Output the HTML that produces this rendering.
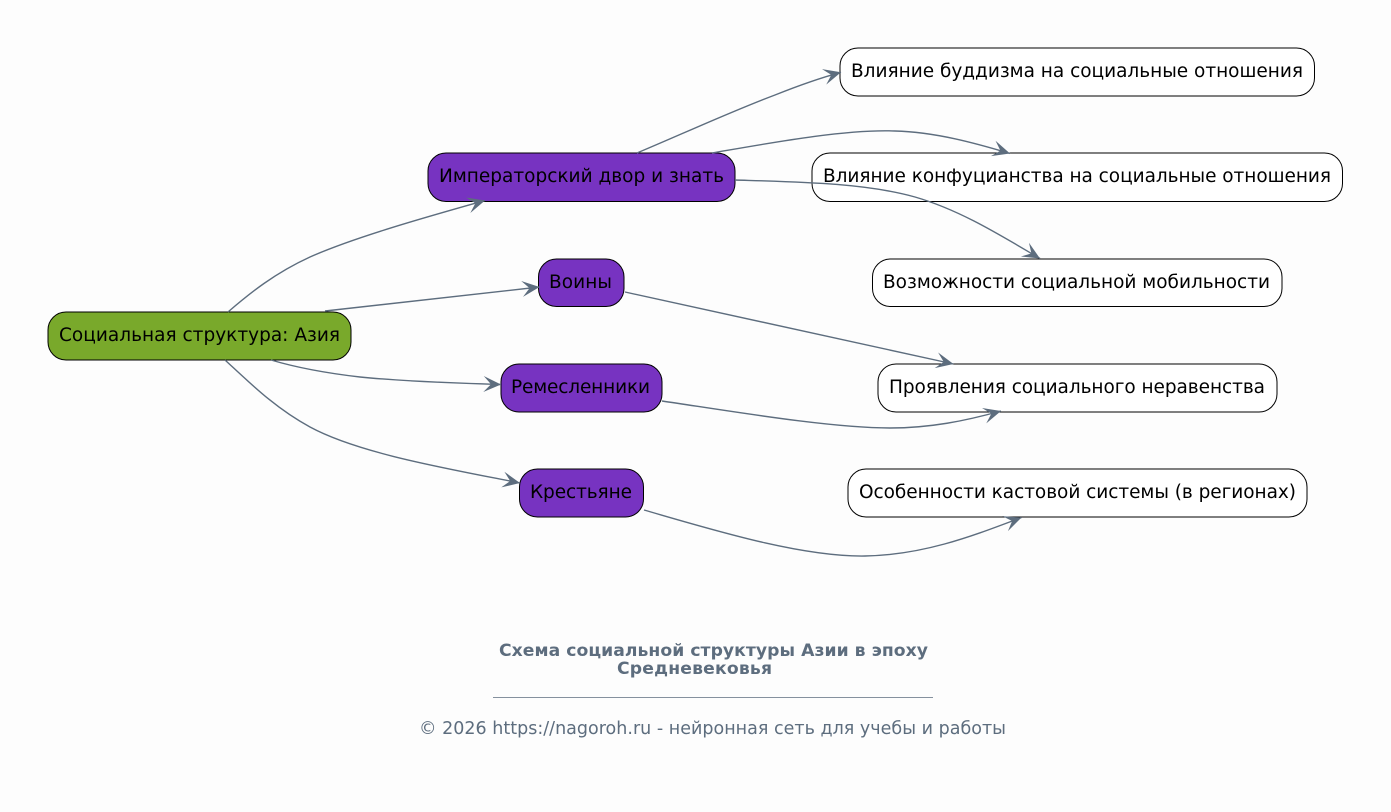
<!DOCTYPE html>
<html><head><meta charset="utf-8"><style>
html,body{margin:0;padding:0;background:#fdfdfd}
svg{display:block}
text{font-family:"DejaVu Sans",sans-serif}
.n{font-size:18.5px;fill:#000;text-anchor:middle}
.b{stroke:#000;stroke-width:1}
.e{fill:none;stroke:#5d6d7e;stroke-width:1.4;marker-end:url(#v)}
</style></head><body>
<svg width="1391" height="812" viewBox="0 0 1391 812" xmlns="http://www.w3.org/2000/svg">
<defs><marker id="v" markerUnits="userSpaceOnUse" markerWidth="20" markerHeight="18" refX="18" refY="9" orient="auto"><path d="M18 9L0.500 1L8 9L0.500 17Z" fill="#5d6d7e"/></marker></defs>
<rect width="1391" height="812" fill="#fdfdfd"/>
<g class="b">
<rect x="48" y="312" width="303" height="48" rx="18" fill="#79a92b"/>
<rect x="428" y="153" width="307" height="48.500" rx="18" fill="#7733c1"/>
<rect x="538.500" y="259" width="85.500" height="47.500" rx="18" fill="#7733c1"/>
<rect x="501" y="364" width="161" height="48" rx="18" fill="#7733c1"/>
<rect x="519.500" y="469" width="124" height="48" rx="18" fill="#7733c1"/>
<rect x="840" y="48" width="474.500" height="48" rx="18" fill="#fff"/>
<rect x="812" y="153" width="530.500" height="48.500" rx="18" fill="#fff"/>
<rect x="872.500" y="259" width="409.500" height="47.500" rx="18" fill="#fff"/>
<rect x="878" y="364" width="399" height="48" rx="18" fill="#fff"/>
<rect x="848" y="469" width="459" height="48" rx="18" fill="#fff"/>
</g>
<text class="n" x="199.500" y="341" textLength="281">Социальная структура: Азия</text>
<text class="n" x="581.500" y="182" textLength="285">Императорский двор и знать</text>
<text class="n" x="580.500" y="288" textLength="63">Воины</text>
<text class="n" x="580.500" y="393" textLength="139">Ремесленники</text>
<text class="n" x="581" y="498" textLength="102">Крестьяне</text>
<text class="n" x="1077" y="77" textLength="452">Влияние буддизма на социальные отношения</text>
<text class="n" x="1077" y="182" textLength="508">Влияние конфуцианства на социальные отношения</text>
<text class="n" x="1076.500" y="288" textLength="387">Возможности социальной мобильности</text>
<text class="n" x="1077" y="393" textLength="376">Проявления социального неравенства</text>
<text class="n" x="1077.500" y="498" textLength="437">Особенности кастовой системы (в регионах)</text>
<path class="e" d="M228 312C250 293 275 273 310 257C355 237 430 216 485 200.500"/>
<path class="e" d="M325 311L539.500 287"/>
<path class="e" d="M271 360C298 368 325 373 360 377C400 381 450 383 501 384.500"/>
<path class="e" d="M225 360C250 383 275 408 310 427C360 454 450 469 520 483"/>
<path class="e" d="M637 153C680 135 730 112 775 95C795 87 820 78 841 72.300"/>
<path class="e" d="M712 153C770 143 845 129 895 131C935 132 975 143 1010 153.500"/>
<path class="e" d="M735 180C800 182 865 183 915 197C960 210 1000 235 1040 258.500"/>
<path class="e" d="M625 292L953.500 364"/>
<path class="e" d="M662 401C730 411 830 428 890 428C930 428 965 421 1001 411"/>
<path class="e" d="M644 510C710 529 800 557 865 556C925 555 975 535 1021.500 517.500"/>
<g font-weight="700" font-size="17.200px" fill="#5d6d7e" text-anchor="middle">
<text x="713.500" y="656" textLength="429">Схема социальной структуры Азии в эпоху</text>
<text x="694.500" y="674" textLength="155">Средневековья</text>
</g>
<line x1="493" y1="697.500" x2="933" y2="697.500" stroke="#5d6d7e" stroke-width="0.800"/>
<text x="712.500" y="734" font-size="17.500px" fill="#5d6d7e" text-anchor="middle" textLength="587">© 2026 https://nagoroh.ru - нейронная сеть для учебы и работы</text>
</svg>
</body></html>
